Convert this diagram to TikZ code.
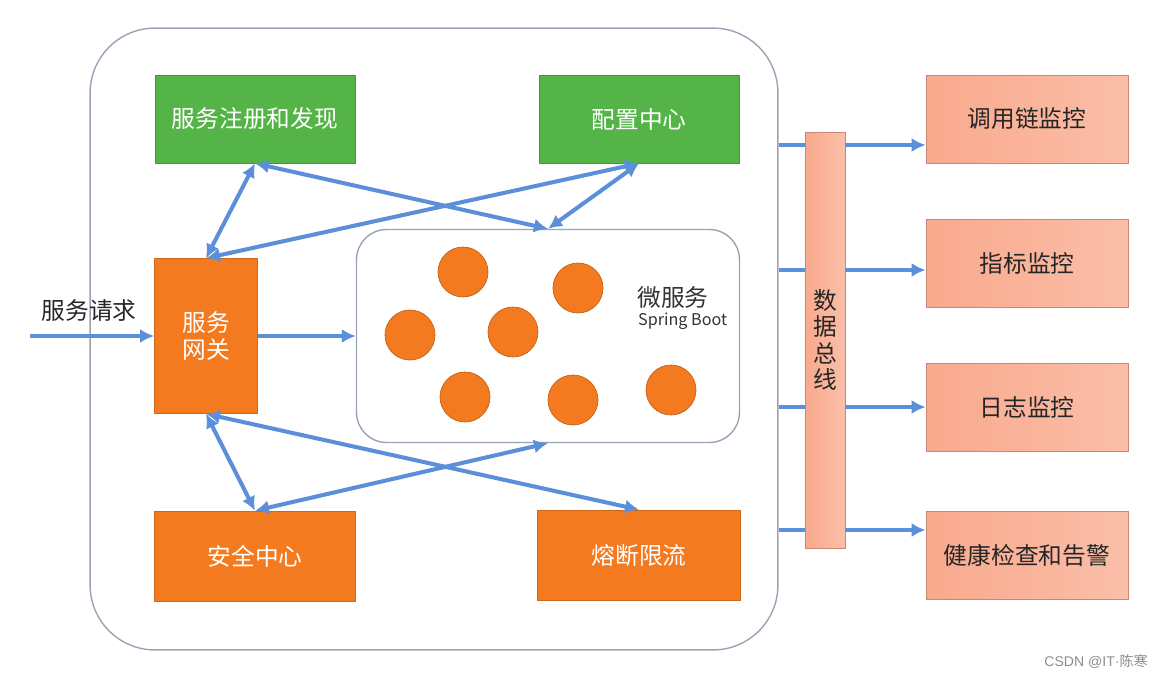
\documentclass[tikz,border=0pt]{standalone}
\usepackage{fontspec}
\setmainfont{Noto Sans CJK SC}
\newfontfamily\latinfont{Liberation Sans}
\usetikzlibrary{positioning,arrows.meta}

\definecolor{boxgreen}{HTML}{55B447}
\definecolor{boxorange}{HTML}{F47A20}
\definecolor{boxsalmon}{HTML}{F9A98C}
\definecolor{linkblue}{HTML}{5C8FDA}
\definecolor{framegrey}{HTML}{9AA3B5}

\tikzset{
    greenbox/.style={fill=boxgreen, draw=boxgreen!85!black, text=white,
        minimum width=4cm, minimum height=1.76cm, font=\fontsize{13.5}{16}\selectfont},
    orangebox/.style={fill=boxorange, draw=boxorange!85!black, text=white,
        minimum width=4.02cm, minimum height=1.8cm, font=\fontsize{13.5}{16}\selectfont},
    monbox/.style={left color=boxsalmon, right color=boxsalmon!75!white, draw=boxsalmon!80!black,
        text=black!85, minimum width=4.04cm, minimum height=1.76cm, font=\fontsize{13.5}{16}\selectfont},
    dot/.style={circle, fill=boxorange, draw=boxorange!80!black, minimum size=1cm, inner sep=0pt},
    link/.style={draw=linkblue, line width=2.3pt, {Latex[length=8pt,width=8pt]}-{Latex[length=8pt,width=8pt]}},
    flow/.style={draw=linkblue, line width=2.3pt, -{Latex[length=8pt,width=8pt]}},
    busline/.style={draw=linkblue, line width=2.3pt},
}

\begin{document}
\begin{tikzpicture}[x=0.02cm, y=-0.02cm]
    \useasboundingbox (0,0) rectangle (1166,677);

    % outer frame
    \node (frame) [draw=framegrey, line width=0.8pt, rounded corners=1.3cm,
        minimum width=13.76cm, minimum height=12.44cm] at (434,339) {};

    % platform boxes
    \node (reg) [greenbox] at (255,119) {服务注册和发现};
    \node (cfg) [greenbox] at (639,119) {配置中心};
    \node (gw) [orangebox, minimum width=2.06cm, minimum height=3.1cm, align=center,
        font=\fontsize{13.5}{15.5}\selectfont] at (206,336) {服务\\网关};
    \node (sec) [orangebox] at (255,556) {安全中心};
    \node (cb) [orangebox, minimum width=4.06cm] at (639,555) {熔断限流};

    % micro services
    \node (ms) [draw=framegrey, line width=0.8pt, rounded corners=0.6cm,
        minimum width=7.66cm, minimum height=4.26cm] at (548,336) {};
    \foreach \x/\y [count=\i] in {463/272, 578/288, 410/335, 513/332, 465/397, 573/400, 671/390}
        \node (dot\i) [dot] at (\x,\y) {};
    \node (mstitle) [font=\fontsize{13.5}{16}\selectfont, text=black!80] at (673,297) {微服务};
    \node (mssub) [below=-4pt of mstitle, xshift=5.5pt, font=\fontsize{9.2}{10}\selectfont, text=black!80] {Spring Boot};

    % data bus and monitors
    \node (bus) [monbox, minimum width=0.8cm, minimum height=8.32cm, align=center,
        font=\fontsize{13.5}{15}\selectfont] at (825,340) {数\\据\\总\\线};
    \node (mon1) [monbox] at (1027,119) {调用链监控};
    \node (mon2) [monbox] at (1027,263) {指标监控};
    \node (mon3) [monbox] at (1027,407) {日志监控};
    \node (mon4) [monbox] at (1027,555) {健康检查和告警};

    % request
    \coordinate (req) at (30,336);
    \node (reqlabel) [font=\fontsize{13.5}{16}\selectfont, text=black!85] at (89,310) {服务请求};
    \draw [flow] (req) -- (gw.west);
    \draw [flow] (gw.east) -- (ms.west);

    % links
    \draw [link] (gw.north) -- (reg.south);
    \draw [link] (gw.north) -- (cfg.south);
    \draw [link] (reg.south) -- (ms.north);
    \draw [link] (cfg.south) -- (ms.north);
    \draw [link] (gw.south) -- (sec.north);
    \draw [link] (gw.south) -- (cb.north);
    \draw [link] (sec.north) -- (ms.south);

    % bus outputs
    \foreach \y [count=\i] in {145, 270, 407, 530} {
        \coordinate (out\i) at (frame.east |- 0,\y);
        \draw [busline] (out\i) -- (out\i -| bus.west);
        \draw [flow] (out\i -| bus.east) -- (out\i -| mon\i.west);
    }

    \node (mark) [font=\fontsize{8}{9}\selectfont, text=black!45] at (1096,661) {{\latinfont CSDN @IT·}陈寒};
\end{tikzpicture}
\end{document}
